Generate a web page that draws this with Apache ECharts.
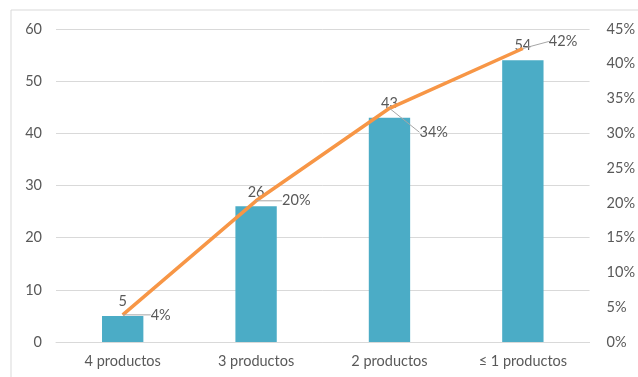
<!DOCTYPE html>
<html><head><meta charset="utf-8">
<script src="https://cdn.jsdelivr.net/npm/echarts@6/dist/echarts.min.js"></script>
<style>html,body{margin:0;padding:0;background:#fff}#c{width:638px;height:377px}</style>
</head><body><div id="c"></div>
<script>
var categories = ['4 productos', '3 productos', '2 productos', '≤ 1 productos'];
var counts = [5, 26, 43, 54];
var shares = [0.039, 0.203, 0.336, 0.422];
var leftTicks = {min: 0, max: 60, interval: 10};
var rightTicks = {min: 0, max: 0.45, interval: 0.05};

var font = 'Lato';
var gray = '#595959';
var labelShift = [[28, 0], [26, 0], [30, 24], [26, -7]];

var chart = echarts.init(document.getElementById('c'));
chart.setOption({
  animation: false,
  textStyle: {fontFamily: font},
  graphic: [{type: 'rect', shape: {x: 11, y: 10, width: 700, height: 400}, style: {fill: 'none', stroke: '#d9d9d9', lineWidth: 1}, silent: true, z: -1}],
  grid: {left: 56, right: 45, top: 29, bottom: 35},
  xAxis: {
    type: 'category', data: categories,
    axisLine: {lineStyle: {color: '#d9d9d9', width: 1}},
    axisTick: {show: false},
    axisLabel: {color: gray, fontSize: 14.5, margin: 12, fontFamily: font}
  },
  yAxis: [{
    type: 'value', min: leftTicks.min, max: leftTicks.max, interval: leftTicks.interval,
    axisLine: {show: false}, axisTick: {show: false},
    splitLine: {lineStyle: {color: '#d9d9d9', width: 1}},
    axisLabel: {color: gray, fontSize: 14.5, margin: 14, fontFamily: font}
  }, {
    type: 'value', min: rightTicks.min, max: rightTicks.max, interval: rightTicks.interval,
    axisLine: {show: false}, axisTick: {show: false}, splitLine: {show: false},
    axisLabel: {color: gray, fontSize: 14.5, margin: 17, fontFamily: font,
      formatter: function (v) { return Math.round(v * 100) + '%'; }}
  }],
  series: [{
    type: 'bar', data: counts, barWidth: '31%', yAxisIndex: 0,
    itemStyle: {color: '#4BACC6'},
    label: {show: true, position: 'top', distance: 7, color: gray, fontSize: 14.5, fontFamily: font}
  }, {
    type: 'line', yAxisIndex: 1, showSymbol: true, symbol: 'circle', symbolSize: 0.1,
    data: shares,
    lineStyle: {color: '#F79646', width: 3.5},
    itemStyle: {color: '#F79646'},
    label: {show: true, position: 'inside', align: 'left', verticalAlign: 'middle', color: gray, fontSize: 14.5, fontFamily: font,
      formatter: function (p) { return Math.round(p.value * 100) + '%'; }},
    labelLine: {show: true, length2: 0, lineStyle: {color: '#a6a6a6', width: 1}},
    labelLayout: function (params) {
      var s = labelShift[params.dataIndex];
      return {dx: s[0], dy: s[1]};
    },
    z: 5
  }]
});
</script></body></html>
